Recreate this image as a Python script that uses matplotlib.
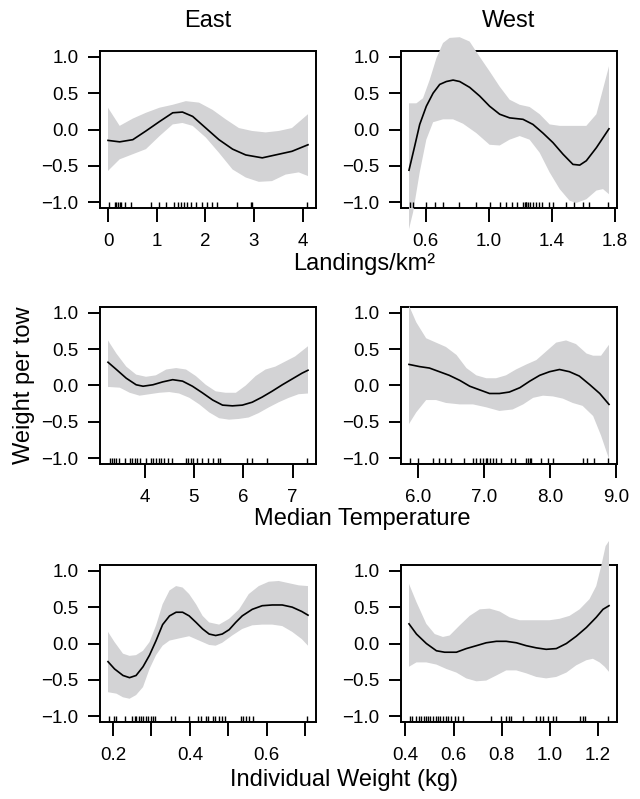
import matplotlib
matplotlib.use("Agg")
import matplotlib.pyplot as plt
import numpy as np

plt.rcParams["font.family"] = ["Liberation Sans", "DejaVu Sans"]

# ---- East, Landings/km2 ----
e_land_x = [0.00, 0.24, 0.51, 0.78, 1.06, 1.33, 1.53, 1.74, 2.01, 2.28, 2.56, 2.83, 3.17, 3.51, 3.78, 4.11]
e_land_y = [-0.15, -0.17, -0.14, -0.02, 0.11, 0.23, 0.24, 0.18, 0.02, -0.14, -0.27, -0.35, -0.39, -0.34, -0.30, -0.21]
e_land_up_x = [0.00, 0.24, 0.51, 0.78, 1.06, 1.33, 1.60, 1.87, 2.15, 2.42, 2.69, 2.96, 3.24, 3.51, 3.78, 4.11]
e_land_up_y = [0.30, 0.05, 0.15, 0.23, 0.30, 0.34, 0.39, 0.37, 0.27, 0.14, 0.02, -0.02, -0.04, -0.02, 0.02, 0.21]
e_land_lo_x = [0.00, 0.24, 0.51, 0.78, 1.06, 1.33, 1.53, 1.74, 2.01, 2.28, 2.56, 2.83, 3.10, 3.37, 3.65, 3.92, 4.11]
e_land_lo_y = [-0.57, -0.41, -0.34, -0.27, -0.09, 0.07, 0.09, 0.05, -0.11, -0.32, -0.55, -0.66, -0.72, -0.71, -0.62, -0.59, -0.64]
e_land_rug = [0.03, 0.14, 0.17, 0.20, 0.24, 0.27, 0.34, 0.48, 0.89, 1.05, 1.19, 1.36, 1.43, 1.50, 1.56,
              1.63, 1.70, 1.80, 1.94, 2.04, 2.14, 2.24, 2.65, 2.93, 2.96, 4.08]

# ---- West, Landings/km2 ----
w_land_x = [0.494, 0.530, 0.562, 0.604, 0.647, 0.689, 0.731, 0.774, 0.816, 0.879, 0.943, 1.006,
            1.070, 1.133, 1.218, 1.281, 1.345, 1.408, 1.472, 1.535, 1.578, 1.620, 1.684, 1.764]
w_land_y = [-0.56, -0.23, 0.07, 0.32, 0.50, 0.62, 0.66, 0.68, 0.66, 0.58, 0.46, 0.32,
            0.21, 0.16, 0.14, 0.07, -0.05, -0.18, -0.34, -0.48, -0.49, -0.43, -0.25, 0.01]
w_land_up_x = [0.494, 0.541, 0.583, 0.625, 0.668, 0.710, 0.752, 0.816, 0.879, 0.943, 1.006,
               1.070, 1.133, 1.197, 1.260, 1.324, 1.387, 1.451, 1.535, 1.620, 1.684, 1.764]
w_land_up_y = [0.36, 0.36, 0.43, 0.68, 0.98, 1.19, 1.26, 1.27, 1.21, 1.00, 0.80,
               0.59, 0.41, 0.34, 0.31, 0.21, 0.07, 0.05, 0.05, 0.05, 0.21, 0.87]
w_land_lo_x = [0.494, 0.520, 0.562, 0.604, 0.647, 0.710, 0.774, 0.837, 0.922, 1.006, 1.070, 1.133,
               1.197, 1.260, 1.324, 1.387, 1.451, 1.514, 1.557, 1.620, 1.684, 1.726, 1.764]
w_land_lo_y = [-1.37, -1.14, -0.59, -0.14, 0.10, 0.14, 0.14, 0.08, -0.05, -0.21, -0.22, -0.14,
               -0.09, -0.14, -0.32, -0.59, -0.82, -0.98, -1.01, -0.96, -0.84, -0.82, -0.89]
w_land_rug = [0.50, 0.52, 0.60, 0.66, 0.71, 0.81, 0.92, 1.01, 1.07, 1.11, 1.15, 1.18, 1.22, 1.23, 1.235,
              1.24, 1.25, 1.26, 1.28, 1.30, 1.32, 1.34, 1.38, 1.41, 1.49, 1.54, 1.60, 1.64, 1.76]

# ---- East, Median Temperature ----
e_temp_x = [3.26, 3.43, 3.63, 3.83, 3.97, 4.17, 4.37, 4.57, 4.77, 4.97, 5.17,
            5.38, 5.58, 5.78, 5.98, 6.18, 6.38, 6.58, 6.79, 6.99, 7.19, 7.31]
e_temp_y = [0.32, 0.22, 0.10, 0.01, -0.01, 0.01, 0.05, 0.08, 0.06, -0.01, -0.10,
            -0.20, -0.27, -0.28, -0.27, -0.23, -0.16, -0.08, 0.01, 0.09, 0.17, 0.21]
e_temp_up_x = [3.26, 3.43, 3.63, 3.83, 4.03, 4.23, 4.44, 4.64, 4.84, 5.04, 5.24,
               5.44, 5.64, 5.85, 6.05, 6.25, 6.45, 6.65, 6.85, 7.05, 7.31]
e_temp_up_y = [0.62, 0.44, 0.26, 0.15, 0.12, 0.14, 0.22, 0.24, 0.22, 0.13, 0.01,
               -0.08, -0.10, -0.10, 0.00, 0.13, 0.22, 0.26, 0.33, 0.40, 0.54]
e_temp_lo_x = [3.26, 3.50, 3.70, 3.90, 4.10, 4.30, 4.50, 4.70, 4.91, 5.11, 5.31,
               5.51, 5.71, 5.91, 6.11, 6.31, 6.52, 6.72, 6.92, 7.12, 7.31]
e_temp_lo_y = [-0.02, -0.03, -0.10, -0.14, -0.12, -0.10, -0.09, -0.11, -0.17, -0.26, -0.37,
               -0.45, -0.47, -0.46, -0.44, -0.38, -0.30, -0.23, -0.17, -0.12, -0.11]
e_temp_rug = [3.30, 3.34, 3.39, 3.43, 3.48, 3.60, 3.70, 3.74, 3.80, 3.85, 3.90, 4.03, 4.13, 4.18,
              4.23, 4.29, 4.34, 4.39, 4.47, 4.56, 4.84, 4.89, 4.94, 4.98, 5.07, 5.17, 5.28, 5.38,
              5.48, 5.52, 6.08, 6.18, 6.48, 7.29]

# ---- West, Median Temperature ----
w_temp_x = [5.86, 6.02, 6.17, 6.32, 6.47, 6.63, 6.78, 6.93, 7.08, 7.23, 7.38,
            7.54, 7.69, 7.84, 7.99, 8.14, 8.29, 8.44, 8.60, 8.75, 8.89]
w_temp_y = [0.29, 0.26, 0.24, 0.19, 0.14, 0.07, -0.01, -0.06, -0.11, -0.11, -0.09,
            -0.03, 0.06, 0.14, 0.19, 0.22, 0.19, 0.13, 0.01, -0.11, -0.26]
w_temp_up_x = [5.86, 5.97, 6.12, 6.27, 6.42, 6.58, 6.73, 6.88, 7.03, 7.18, 7.33,
               7.48, 7.64, 7.79, 7.94, 8.09, 8.24, 8.39, 8.55, 8.65, 8.77, 8.89]
w_temp_up_y = [1.10, 0.87, 0.65, 0.59, 0.53, 0.42, 0.24, 0.14, 0.10, 0.10, 0.14,
               0.22, 0.29, 0.35, 0.47, 0.59, 0.62, 0.57, 0.44, 0.41, 0.41, 0.56]
w_temp_lo_x = [5.86, 5.97, 6.12, 6.27, 6.42, 6.63, 6.83, 7.03, 7.23, 7.43,
               7.59, 7.74, 7.89, 8.04, 8.19, 8.34, 8.49, 8.65, 8.77, 8.89]
w_temp_lo_y = [-0.53, -0.37, -0.20, -0.20, -0.24, -0.26, -0.26, -0.30, -0.35, -0.33,
               -0.26, -0.17, -0.14, -0.15, -0.18, -0.24, -0.28, -0.42, -0.69, -1.01]
w_temp_rug = [5.87, 6.00, 6.22, 6.32, 6.40, 6.50, 6.70, 6.83, 6.88, 6.93, 6.98, 7.02, 7.04, 7.08,
              7.13, 7.18, 7.26, 7.41, 7.46, 7.64, 7.66, 7.69, 7.71, 7.86, 7.96, 8.04, 8.49, 8.55,
              8.67, 8.87]

# ---- East, Individual Weight (kg) ----
e_wt_x = [0.187, 0.204, 0.226, 0.243, 0.260, 0.278, 0.295, 0.312, 0.329, 0.347, 0.364, 0.381, 0.398, 0.416,
          0.433, 0.450, 0.467, 0.484, 0.502, 0.519, 0.536, 0.562, 0.588, 0.614, 0.640, 0.666, 0.691, 0.707]
e_wt_y = [-0.25, -0.35, -0.44, -0.47, -0.44, -0.32, -0.16, 0.04, 0.26, 0.38, 0.43, 0.43, 0.38, 0.29,
          0.20, 0.13, 0.11, 0.13, 0.19, 0.29, 0.38, 0.47, 0.52, 0.53, 0.53, 0.50, 0.44, 0.39]
e_wt_up_x = [0.187, 0.204, 0.226, 0.243, 0.260, 0.278, 0.295, 0.312, 0.329, 0.347, 0.364, 0.381, 0.398,
             0.416, 0.433, 0.450, 0.476, 0.502, 0.528, 0.553, 0.579, 0.605, 0.631, 0.657, 0.683, 0.707]
e_wt_up_y = [0.16, 0.02, -0.14, -0.17, -0.16, -0.10, 0.02, 0.25, 0.54, 0.73, 0.79, 0.77, 0.68,
             0.54, 0.38, 0.29, 0.26, 0.34, 0.47, 0.68, 0.79, 0.85, 0.86, 0.83, 0.80, 0.79]
e_wt_lo_x = [0.187, 0.209, 0.226, 0.243, 0.260, 0.278, 0.295, 0.312, 0.329, 0.347, 0.372, 0.398, 0.424,
             0.450, 0.467, 0.484, 0.510, 0.536, 0.562, 0.588, 0.614, 0.640, 0.666, 0.691, 0.707]
e_wt_lo_y = [-0.67, -0.69, -0.74, -0.76, -0.71, -0.60, -0.35, -0.16, -0.03, 0.04, 0.07, 0.10, 0.04,
             -0.02, -0.03, 0.01, 0.11, 0.20, 0.25, 0.26, 0.26, 0.24, 0.16, 0.06, -0.03]
e_wt_rug = [0.190, 0.203, 0.209, 0.230, 0.250, 0.256, 0.260, 0.267, 0.273, 0.278, 0.286, 0.292, 0.299,
            0.303, 0.310, 0.351, 0.362, 0.398, 0.422, 0.428, 0.441, 0.448, 0.459, 0.466, 0.476, 0.483,
            0.491, 0.532, 0.539, 0.547, 0.553, 0.564, 0.704]

# ---- West, Individual Weight (kg) ----
w_wt_x = [0.415, 0.446, 0.487, 0.529, 0.563, 0.612, 0.653, 0.695, 0.736, 0.778, 0.819,
          0.861, 0.902, 0.944, 0.985, 1.027, 1.069, 1.110, 1.152, 1.193, 1.221, 1.246]
w_wt_y = [0.27, 0.13, 0.00, -0.10, -0.12, -0.12, -0.07, -0.03, 0.01, 0.03, 0.03,
          0.01, -0.03, -0.06, -0.08, -0.07, 0.00, 0.10, 0.22, 0.36, 0.47, 0.52]
w_wt_up_x = [0.415, 0.446, 0.487, 0.522, 0.556, 0.584, 0.626, 0.667, 0.709, 0.750, 0.792, 0.833,
             0.875, 0.916, 0.958, 0.999, 1.041, 1.082, 1.124, 1.165, 1.193, 1.214, 1.232, 1.246]
w_wt_up_y = [0.82, 0.57, 0.27, 0.13, 0.09, 0.11, 0.25, 0.38, 0.47, 0.48, 0.44, 0.36,
             0.32, 0.32, 0.32, 0.32, 0.34, 0.38, 0.47, 0.61, 0.79, 1.07, 1.34, 1.41]
w_wt_lo_x = [0.415, 0.446, 0.487, 0.529, 0.570, 0.612, 0.653, 0.695, 0.736, 0.778, 0.819, 0.861,
             0.902, 0.944, 0.985, 1.027, 1.069, 1.110, 1.152, 1.179, 1.207, 1.228, 1.246]
w_wt_lo_y = [-0.32, -0.26, -0.26, -0.29, -0.35, -0.40, -0.48, -0.52, -0.51, -0.44, -0.37, -0.37,
             -0.41, -0.46, -0.48, -0.46, -0.40, -0.30, -0.23, -0.21, -0.26, -0.32, -0.39]
w_wt_rug = [0.418, 0.429, 0.443, 0.457, 0.466, 0.476, 0.484, 0.494, 0.504, 0.515, 0.526, 0.536,
            0.545, 0.556, 0.567, 0.577, 0.591, 0.605, 0.618, 0.639, 0.757, 0.799, 0.819, 0.830,
            0.840, 0.889, 0.944, 0.958, 0.972, 0.992, 1.013, 1.027, 1.124, 1.138, 1.145, 1.242]

# tick positions / labels
land_e_ticks = [0, 1, 2, 3, 4]
land_e_labels = ["0", "1", "2", "3", "4"]
land_w_ticks = [0.6, 1.0, 1.4, 1.8]
land_w_labels = ["0.6", "1.0", "1.4", "1.8"]
temp_e_ticks = [4, 5, 6, 7]
temp_e_labels = ["4", "5", "6", "7"]
temp_w_ticks = [6.0, 7.0, 8.0, 9.0]
temp_w_labels = ["6.0", "7.0", "8.0", "9.0"]
wt_e_ticks = [0.2, 0.3, 0.4, 0.5, 0.6, 0.7]
wt_e_labels = ["0.2", "", "0.4", "", "0.6", ""]
wt_w_ticks = [0.4, 0.6, 0.8, 1.0, 1.2]
wt_w_labels = ["0.4", "0.6", "0.8", "1.0", "1.2"]
y_ticks = [-1.0, -0.5, 0.0, 0.5, 1.0]
y_labels = ["\u22121.0", "\u22120.5", "0.0", "0.5", "1.0"]

columns = ["East", "West"]
row_labels = ["Landings/km\u00b2", "Median Temperature", "Individual Weight (kg)"]

panels = [
    [(e_land_x, e_land_y, e_land_up_x, e_land_up_y, e_land_lo_x, e_land_lo_y, e_land_rug, land_e_ticks, land_e_labels),
     (w_land_x, w_land_y, w_land_up_x, w_land_up_y, w_land_lo_x, w_land_lo_y, w_land_rug, land_w_ticks, land_w_labels)],
    [(e_temp_x, e_temp_y, e_temp_up_x, e_temp_up_y, e_temp_lo_x, e_temp_lo_y, e_temp_rug, temp_e_ticks, temp_e_labels),
     (w_temp_x, w_temp_y, w_temp_up_x, w_temp_up_y, w_temp_lo_x, w_temp_lo_y, w_temp_rug, temp_w_ticks, temp_w_labels)],
    [(e_wt_x, e_wt_y, e_wt_up_x, e_wt_up_y, e_wt_lo_x, e_wt_lo_y, e_wt_rug, wt_e_ticks, wt_e_labels),
     (w_wt_x, w_wt_y, w_wt_up_x, w_wt_up_y, w_wt_lo_x, w_wt_lo_y, w_wt_rug, wt_w_ticks, wt_w_labels)],
]

# layout in pixels (figure 640 x 799)
W, H = 640, 799
col_left = [100, 401]
row_top = [51, 307, 565]
box_w, box_h = 216, 157
xlabel_pos = [(364, 264), (362, 519), (344, 780)]
band_color = "#d3d3d5"

fig = plt.figure(figsize=(W / 100, H / 100), dpi=100)

for r in range(3):
    for c in range(2):
        lx, ly, ux, uy, bx, by, rug, xt, xtl = panels[r][c]
        ax = fig.add_axes([col_left[c] / W, 1 - (row_top[r] + box_h) / H, box_w / W, box_h / H])
        lo, hi = min(lx), max(lx)
        pad = 0.04 * (hi - lo)
        ax.set_xlim(lo - pad, hi + pad)
        ax.set_ylim(-1.08, 1.08)

        # confidence band is allowed to spill outside the box, as in the original
        ax.fill(np.r_[ux, bx[::-1]], np.r_[uy, by[::-1]], color=band_color,
                lw=0, clip_on=False, zorder=3)
        ax.plot(lx, ly, color="black", lw=1.2, zorder=4, clip_on=False)
        ax.vlines(rug, 0, 0.04, transform=ax.get_xaxis_transform(),
                  color="black", lw=1.0, zorder=4)

        ax.set_xticks(xt)
        ax.set_xticklabels(xtl)
        ax.set_yticks(y_ticks)
        ax.set_yticklabels(y_labels)
        ax.tick_params(axis="x", direction="out", length=10, width=1.4, pad=8, labelsize=13.5)
        ax.tick_params(axis="y", direction="out", length=8.5, width=1.4, pad=7, labelsize=13.5)
        for s in ax.spines.values():
            s.set_linewidth(1.4)

for c, name in enumerate(columns):
    fig.text((col_left[c] + box_w / 2) / W, 1 - 27 / H, name, ha="center",
             va="baseline", fontsize=17)

for (px, py), label in zip(xlabel_pos, row_labels):
    fig.text(px / W, 1 - py / H, label, ha="center", va="center", fontsize=17)

fig.text(24 / W, 1 - 385 / H, "Weight per tow", rotation=90, ha="center",
         va="center", fontsize=17)

fig.savefig("out.png", dpi=100)
plt.close(fig)
